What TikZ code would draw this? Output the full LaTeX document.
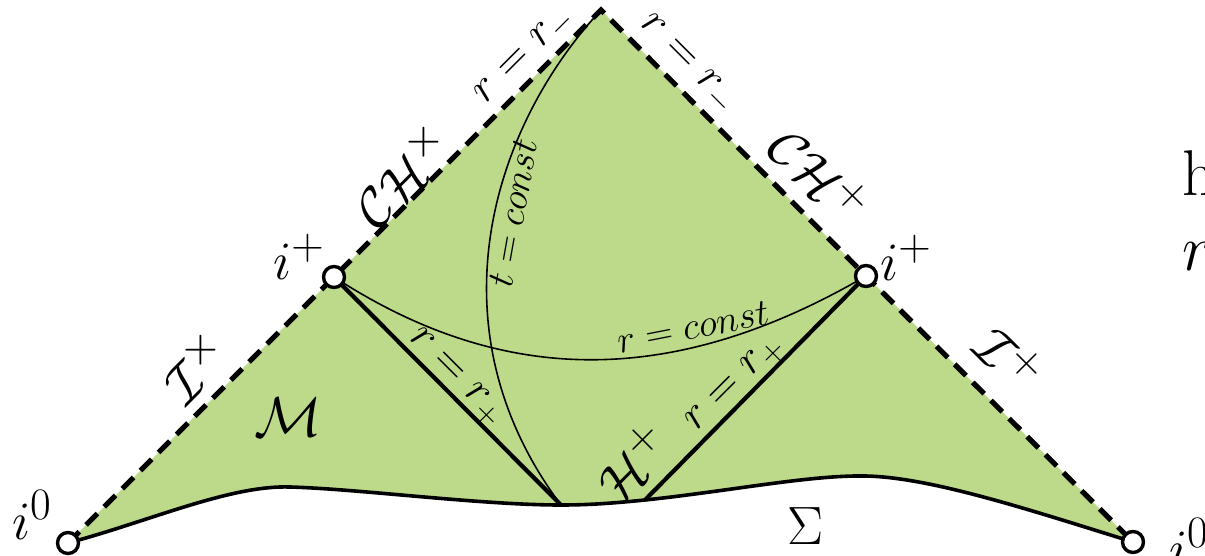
\documentclass[tikz,border=0pt]{standalone}
\usepackage{amsmath}
\definecolor{pgreen}{RGB}{189,218,138}
\newcommand\sigmacurve{(68,543) .. controls (150,521) and (230,485) .. (290,487)
  .. controls (360,489) and (480,505) .. (561,505)
  .. controls (590,505) and (615,503) .. (645,500)
  .. controls (730,491) and (810,475) .. (865,476)
  .. controls (930,477) and (1030,510) .. (1133,542)}
\begin{document}
\begin{tikzpicture}[x=0.5pt,y=-0.5pt,
  big/.style={font=\Huge, scale=1.085, inner sep=0pt},
  small/.style={font=\huge, scale=0.92, inner sep=0pt},
  rlabel/.style={font=\huge, scale=1.08, inner sep=0pt},
  side/.style={font=\Huge, scale=1.3, inner sep=0pt, anchor=base west},
  dotnode/.style={circle, draw, fill=white, line width=1.7pt, minimum size=10.5pt, inner sep=0pt},
  nullline/.style={dash pattern=on 8pt off 4.8pt, line width=2.6pt},
  horizon/.style={line width=2.1pt},
  sigma/.style={line width=1.8pt},
  thincurve/.style={line width=0.8pt}
]
\useasboundingbox (0,0) rectangle (1205,556);

\coordinate (i0L) at (68,543);
\coordinate (iL) at (334,277);
\coordinate (top) at (601,10);
\coordinate (iR) at (866,276);
\coordinate (i0R) at (1133,542);
\coordinate (jL) at (561,505);
\coordinate (jR) at (645,500);

% region
\fill[pgreen] \sigmacurve -- (iR) -- (top) -- (iL) -- cycle;

% Sigma
\draw[sigma] \sigmacurve;

% curves
\draw[thincurve] (top) .. controls (490,130) and (430,330) .. (jL);
\draw[thincurve] (iL) .. controls (500,385) and (670,390) .. (iR);

% horizons
\draw[horizon] (iL) -- (jL);
\draw[horizon] (iR) -- (jR);

% null boundaries
\draw[nullline] (i0L) -- (iL) -- (top) -- (iR) -- (i0R);

% points
\node[dotnode] (ci0L) at (i0L) {};
\node[dotnode] (ciL) at (iL) {};
\node[dotnode] (ciR) at (iR) {};
\node[dotnode] (ci0R) at (i0R) {};

% labels
\node[big] (li0L) at (32,515) {$i^0$};
\node[big] (liL) at (299,257) {$i^+$};
\node[big] (liR) at (906,258) {$i^+$};
\node[big] (li0R) at (1189,543) {$i^0$};
\node[big, rotate=45] (lIL) at (195,367) {$\mathcal{I}^{\times}$};
\node[big, rotate=45] (lCHL) at (402,175) {$\mathcal{CH}^{\times}$};
\node[big, rotate=-45] (lCHR) at (820,175) {$\mathcal{CH}^{+}$};
\node[big, rotate=-45] (lIR) at (1010,358) {$\mathcal{I}^{+}$};
\node[big, scale=1.04] (lM) at (288,417) {$\mathcal{M}$};
\node[big, rotate=45] (lH) at (633,462) {$\mathcal{H}^{+}$};
\node[big] (lS) at (806,526) {$\Sigma$};
\node[rlabel, rotate=45] (lrmL) at (526,57) {$r=r_-$};
\node[rlabel, rotate=-45] (lrmR) at (687,65) {$r=r_-$};
\node[rlabel, rotate=-45] (lrpL) at (455,378) {$r=r_+$};
\node[rlabel, rotate=45] (lrpR) at (736,385) {$r=r_+$};
\node[small, rotate=80] (ltc) at (513,213) {$t=const$};
\node[small, rotate=11] (lrc) at (693,327) {$r=const$};
\node[side] (lh) at (1182,195) {h};
\node[side] (lr) at (1182,270) {$r$};
\end{tikzpicture}
\end{document}
